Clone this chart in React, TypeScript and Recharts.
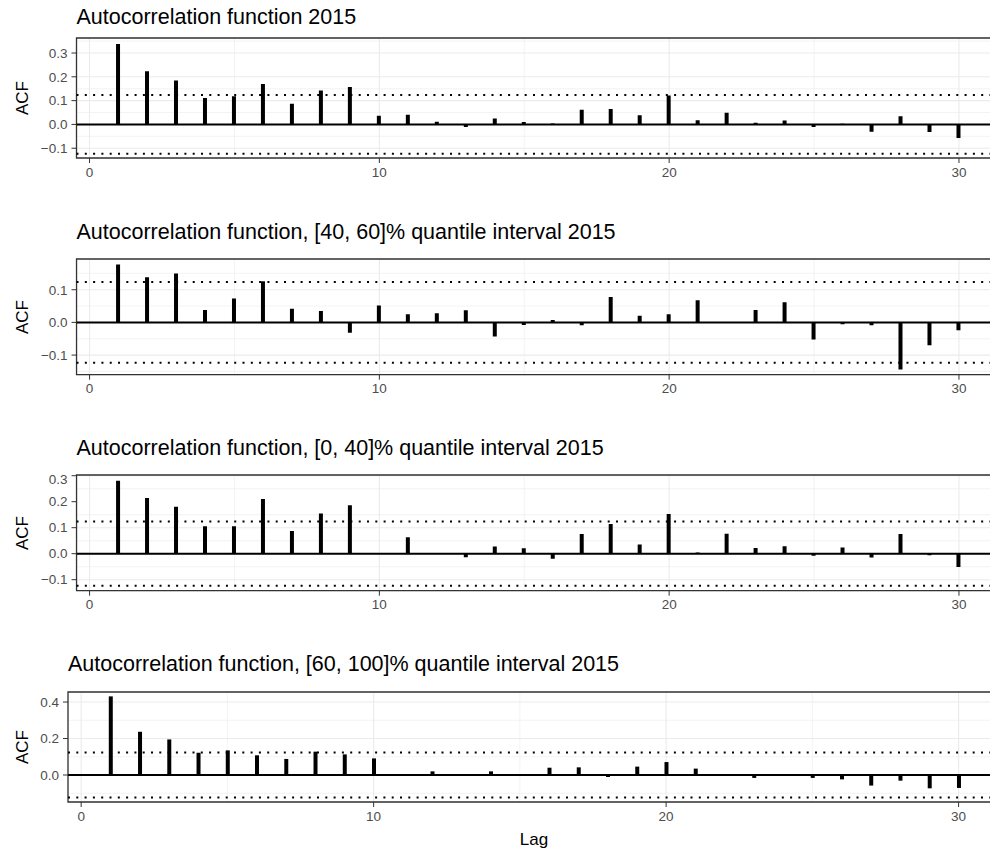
import {
  ComposedChart,
  Bar,
  XAxis,
  YAxis,
  CartesianGrid,
  ReferenceLine,
  ReferenceArea,
} from "recharts";

const lags = [
  1, 2, 3, 4, 5, 6, 7, 8, 9, 10, 11, 12, 13, 14, 15, 16, 17, 18, 19, 20, 21,
  22, 23, 24, 25, 26, 27, 28, 29, 30,
];

const acfAll = [
  0.338, 0.223, 0.185, 0.111, 0.118, 0.17, 0.087, 0.143, 0.157, 0.036, 0.041,
  0.011, -0.011, 0.025, 0.01, 0.004, 0.062, 0.065, 0.039, 0.121, 0.018, 0.049,
  0.007, 0.017, -0.011, 0.003, -0.031, 0.034, -0.032, -0.057,
];

const acfMid = [
  0.177, 0.138, 0.15, 0.038, 0.073, 0.126, 0.042, 0.035, -0.032, 0.052, 0.025,
  0.028, 0.037, -0.043, -0.008, 0.007, -0.009, 0.078, 0.02, 0.025, 0.068, 0.001,
  0.038, 0.062, -0.052, -0.006, -0.009, -0.144, -0.07, -0.024,
];

const acfLow = [
  0.281, 0.214, 0.181, 0.106, 0.106, 0.21, 0.087, 0.155, 0.186, 0.001, 0.063,
  0.001, -0.014, 0.028, 0.021, -0.019, 0.076, 0.114, 0.035, 0.153, 0.005, 0.077,
  0.022, 0.029, -0.008, 0.024, -0.015, 0.076, -0.006, -0.051,
];

const acfHigh = [
  0.431, 0.237, 0.195, 0.122, 0.135, 0.108, 0.088, 0.128, 0.113, 0.091, 0.001,
  0.02, -0.002, 0.02, 0.001, 0.04, 0.042, -0.011, 0.046, 0.071, 0.035, 0.002,
  -0.016, 0.001, -0.016, -0.024, -0.058, -0.031, -0.073, -0.071,
];

// 95% band, 1.96 / sqrt(n)
const ciLimit = 0.1235;

const xTicks = [0, 10, 20, 30];
const xMinor = [5, 15, 25];
const xDomain: [number, number] = [-0.45, 31.45];

const FONT = '"Liberation Sans", Arial, Helvetica, sans-serif';
const CHART_W = 1001;
const TOP_PAD = 4;
const XAXIS_H = 30;
const TITLE_SIZE = 21.5;

const fmt = (v: number) => {
  const s = Math.abs(v).toFixed(1);
  return v < -1e-9 ? "\u2212" + s : s;
};

interface PanelProps {
  title: string;
  values: number[];
  yDomain: [number, number];
  yTicks: number[];
  yMinor: number[];
  plotTop: number;
  plotH: number;
  plotLeft: number;
  titleBaseline: number;
}

function AcfPanel({
  title,
  values,
  yDomain,
  yTicks,
  yMinor,
  plotTop,
  plotH,
  plotLeft,
  titleBaseline,
}: PanelProps) {
  const data = lags.map((lag, i) => ({ lag, acf: values[i] }));
  const tickStyle = { fontSize: 13.5, fill: "#4d4d4d", fontFamily: FONT };

  return (
    <>
      <div
        style={{
          position: "absolute",
          left: plotLeft,
          top: titleBaseline - 0.845 * TITLE_SIZE,
          fontSize: TITLE_SIZE,
          lineHeight: TITLE_SIZE + "px",
          fontFamily: FONT,
          color: "#000",
          whiteSpace: "nowrap",
        }}
      >
        {title}
      </div>
      <div
        style={{
          position: "absolute",
          left: 22,
          top: plotTop + plotH / 2,
          transform: "translate(-50%, -50%) rotate(-90deg)",
          fontSize: 17,
          lineHeight: "17px",
          fontFamily: FONT,
          color: "#000",
        }}
      >
        ACF
      </div>
      <div style={{ position: "absolute", left: 0, top: plotTop - TOP_PAD }}>
        <ComposedChart
          width={CHART_W}
          height={TOP_PAD + plotH + XAXIS_H}
          data={data}
          margin={{ top: TOP_PAD, right: 0, bottom: 0, left: 0 }}
        >
          <CartesianGrid
            stroke="#ebebeb"
            strokeWidth={0.6}
            horizontalValues={yMinor}
            verticalValues={xMinor}
          />
          <CartesianGrid stroke="#ebebeb" strokeWidth={1.1} />
          <XAxis
            dataKey="lag"
            type="number"
            domain={xDomain}
            allowDataOverflow
            ticks={xTicks}
            height={XAXIS_H}
            axisLine={false}
            tickLine={{ stroke: "#333333" }}
            tickSize={5}
            tickMargin={4}
            tick={tickStyle}
          />
          <YAxis
            type="number"
            domain={yDomain}
            allowDataOverflow
            ticks={yTicks}
            width={plotLeft}
            axisLine={false}
            tickLine={{ stroke: "#333333" }}
            tickSize={5}
            tickMargin={4}
            tick={tickStyle}
            tickFormatter={fmt}
          />
          <Bar
            dataKey="acf"
            fill="#000"
            barSize={4}
            isAnimationActive={false}
          />
          <ReferenceLine y={0} stroke="#000" strokeWidth={2} />
          <ReferenceLine
            y={ciLimit}
            stroke="#000"
            strokeWidth={2}
            strokeDasharray="2 6.3"
          />
          <ReferenceLine
            y={-ciLimit}
            stroke="#000"
            strokeWidth={2}
            strokeDasharray="2 6.3"
          />
          <ReferenceArea
            x1={xDomain[0]}
            x2={xDomain[1]}
            y1={yDomain[0]}
            y2={yDomain[1]}
            fill="none"
            stroke="#333333"
            strokeWidth={1.3}
            ifOverflow="visible"
          />
        </ComposedChart>
      </div>
    </>
  );
}

export default function App() {
  return (
    <div
      style={{
        position: "absolute",
        left: 0,
        top: 0,
        width: 990,
        height: 850,
        overflow: "hidden",
        background: "#fff",
      }}
    >
      <AcfPanel
        title="Autocorrelation function 2015"
        values={acfAll}
        yDomain={[-0.141, 0.363]}
        yTicks={[-0.1, 0, 0.1, 0.2, 0.3]}
        yMinor={[-0.05, 0.05, 0.15, 0.25, 0.35]}
        plotTop={38.3}
        plotH={120}
        plotLeft={76.5}
        titleBaseline={25}
      />
      <AcfPanel
        title="Autocorrelation function, [40, 60]% quantile interval 2015"
        values={acfMid}
        yDomain={[-0.16, 0.194]}
        yTicks={[-0.1, 0, 0.1]}
        yMinor={[-0.15, -0.05, 0.05, 0.15]}
        plotTop={259.3}
        plotH={115.7}
        plotLeft={76.5}
        titleBaseline={240}
      />
      <AcfPanel
        title="Autocorrelation function, [0, 40]% quantile interval 2015"
        values={acfLow}
        yDomain={[-0.1423, 0.3027]}
        yTicks={[-0.1, 0, 0.1, 0.2, 0.3]}
        yMinor={[-0.05, 0.05, 0.15, 0.25]}
        plotTop={475}
        plotH={115.7}
        plotLeft={76.5}
        titleBaseline={456}
      />
      <AcfPanel
        title="Autocorrelation function, [60, 100]% quantile interval 2015"
        values={acfHigh}
        yDomain={[-0.148, 0.455]}
        yTicks={[0, 0.2, 0.4]}
        yMinor={[-0.1, 0.1, 0.3]}
        plotTop={691.7}
        plotH={110}
        plotLeft={68}
        titleBaseline={672.5}
      />
      <div
        style={{
          position: "absolute",
          left: 534,
          top: 831.3,
          transform: "translateX(-50%)",
          fontSize: 17,
          lineHeight: "17px",
          fontFamily: FONT,
          color: "#000",
        }}
      >
        Lag
      </div>
    </div>
  );
}
